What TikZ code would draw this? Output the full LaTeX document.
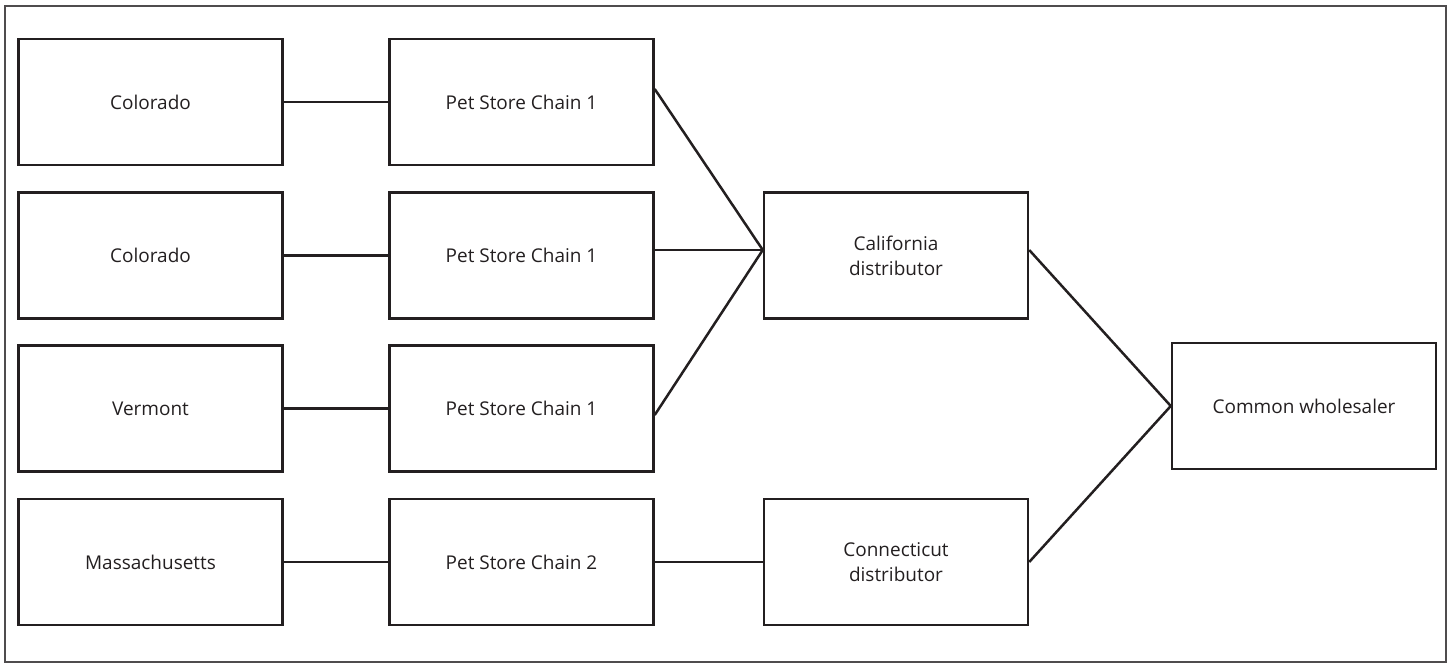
\documentclass[tikz,border=0pt]{standalone}
\usepackage{fontspec}
\setmainfont{Open Sans}
\usepackage{xcolor}
\usetikzlibrary{positioning}

\definecolor{ink}{RGB}{35,31,32}

\tikzset{
  box/.style={draw=ink, line width=0.05cm, minimum width=5.28cm,
    minimum height=2.52cm, inner sep=0pt, align=center, text=ink,
    font=\fontsize{10.8}{14.2}\selectfont},
  link/.style={draw=ink, line width=0.05cm}
}

\begin{document}
\begin{tikzpicture}[x=0.02cm,y=-0.02cm]
  \useasboundingbox (0,0) rectangle (1450,663);
  \draw[line width=0.045cm, draw=ink!80] (5,6) rectangle (1446,662);

  % states
  \node[box] (colo1) at (150.5,102)   {Colorado};
  \node[box] (colo2) at (150.5,255.5) {Colorado};
  \node[box] (verm)  at (150.5,408.5) {Vermont};
  \node[box] (mass)  at (150.5,562)   {Massachusetts};

  % store chains
  \node[box] (pet1) at (521.5,102)   {Pet Store Chain 1};
  \node[box] (pet2) at (521.5,255.5) {Pet Store Chain 1};
  \node[box] (pet3) at (521.5,408.5) {Pet Store Chain 1};
  \node[box] (pet4) at (521.5,562)   {Pet Store Chain 2};

  % distributors and wholesaler
  \node[box] (calif) at (896,255.5) {California\\distributor};
  \node[box] (conn)  at (896,562)   {Connecticut\\distributor};
  \node[box] (whole) at (1304,406)  {Common wholesaler};

  \draw[link] (colo1) -- (pet1);
  \draw[link] (colo2) -- (pet2);
  \draw[link] (verm)  -- (pet3);
  \draw[link] (mass)  -- (pet4);

  \draw[link] ([yshift=0.26cm]pet1.east) -- ([yshift=0.11cm]calif.west);
  \draw[link] ([yshift=0.11cm]pet2.east) -- ([yshift=0.11cm]calif.west);
  \draw[link] ([yshift=-0.13cm]pet3.east) -- ([yshift=0.11cm]calif.west);
  \draw[link] (pet4) -- (conn);

  \draw[link] ([yshift=0.11cm]calif.east) -- (whole.west);
  \draw[link] (conn.east) -- (whole.west);
\end{tikzpicture}
\end{document}
